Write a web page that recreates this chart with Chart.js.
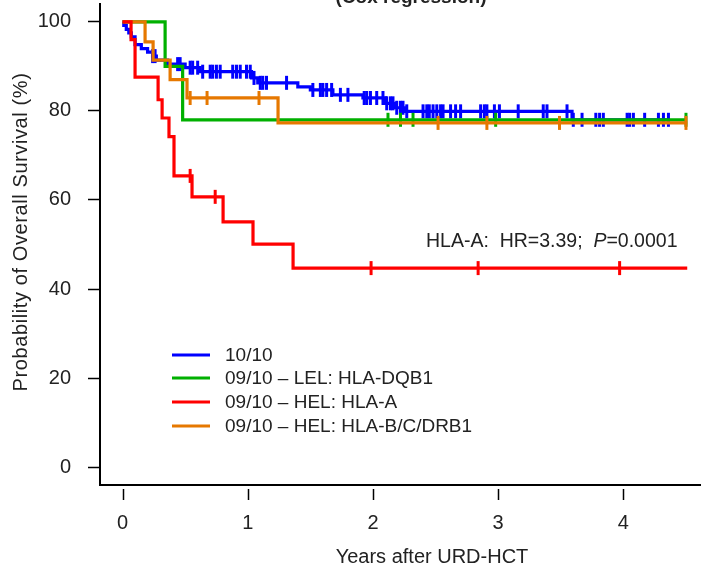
<!DOCTYPE html>
<html><head><meta charset="utf-8">
<script src="https://cdn.jsdelivr.net/npm/chart.js@4.4.1/dist/chart.umd.min.js"></script>
<style>html,body{margin:0;padding:0;background:#fff}canvas{display:block}</style>
</head><body>
<canvas id="c" width="701" height="571"></canvas>
<script>
// ---------- data ----------
const seriesLabels = ['10/10', '09/10 \u2013 LEL: HLA-DQB1', '09/10 \u2013 HEL: HLA-A', '09/10 \u2013 HEL: HLA-B/C/DRB1'];
const seriesColors = ['#0000FF', '#00B000', '#FF0000', '#E67800'];
const xTickValues = [0, 1, 2, 3, 4];
const yTickValues = [0, 20, 40, 60, 80, 100];
const xTitle = 'Years after URD-HCT';
const yTitle = 'Probability of Overall Survival (%)';
const topTitle = '(Cox regression)';

// 10/10 (blue): step times (years) and survival (%) after each step
const blueTimes = [0, 0.01, 0.03, 0.05, 0.07, 0.10, 0.15, 0.20, 0.24, 0.27, 0.36, 0.50, 0.62, 1.03, 1.08, 1.40, 1.50, 1.68, 1.92, 2.10, 2.18, 2.26, 3.59];
const blueSurv  = [100, 99.2, 98.3, 97.5, 96.6, 94.9, 94.0, 93.2, 92.3, 91.4, 90.5, 89.7, 88.8, 87.4, 86.3, 85.4, 84.7, 83.6, 82.9, 81.7, 80.7, 79.9, 78.0];
const blueEnd = 4.37;
const blueCensor = [0.24, 0.26, 0.44, 0.46, 0.54, 0.56, 0.60, 0.64, 0.70, 0.72, 0.75, 0.78, 0.88, 0.91, 0.94, 0.99, 1.02, 1.05, 1.10, 1.12, 1.15, 1.31, 1.52, 1.58, 1.60, 1.63, 1.67, 1.74, 1.80, 1.93, 1.95, 1.98, 2.03, 2.08, 2.11, 2.14, 2.16, 2.19, 2.22, 2.24, 2.27, 2.40, 2.43, 2.45, 2.48, 2.51, 2.54, 2.56, 2.62, 2.66, 2.70, 2.86, 2.89, 2.91, 2.97, 3.01, 3.16, 3.36, 3.39, 3.55, 3.60, 3.67, 3.78, 3.81, 3.84, 4.03, 4.05, 4.08, 4.17, 4.28, 4.32, 4.36];

// 09/10 LEL HLA-DQB1 (green)
const greenTimes = [0, 0.34, 0.48];
const greenSurv  = [100, 90.0, 78.0];
const greenEnd = 4.50;
const greenCensor = [2.12, 2.22, 2.32, 2.98, 4.50];

// 09/10 HEL HLA-A (red)
const redTimes = [0, 0.068, 0.10, 0.284, 0.316, 0.371, 0.411, 0.555, 0.803, 1.042, 1.362];
const redSurv  = [100, 96.0, 87.6, 82.5, 78.4, 74.2, 65.4, 60.7, 55.1, 50.1, 44.7];
const redEnd = 4.51;
const redCensor = [0.54, 0.74, 1.985, 2.84, 3.97];

// 09/10 HEL HLA-B/C/DRB1 (orange)
const orangeTimes = [0, 0.18, 0.244, 0.38, 0.515, 1.242];
const orangeSurv  = [100, 95.5, 91.4, 87.0, 82.9, 77.3];
const orangeEnd = 4.51;
const orangeCensor = [0.54, 0.675, 1.09, 2.52, 2.91, 3.49, 4.50];

const hrLabel = 'HLA-A:  HR=3.39;  ';
const pLabel = 'P';
const pValue = '=0.0001';

// ---------- helpers ----------
function stepPoints(times, surv, end) {
  const pts = times.map((t, i) => ({x: t, y: surv[i]}));
  pts.push({x: end, y: surv[surv.length - 1]});
  return pts;
}
function survAt(times, surv, t) {
  let v = surv[0];
  for (let i = 0; i < times.length; i++) if (times[i] <= t) v = surv[i];
  return v;
}
function censorPoints(times, surv, cens) {
  return cens.map(t => ({x: t, y: survAt(times, surv, t)}));
}

const groups = [
  {t: blueTimes, s: blueSurv, e: blueEnd, c: blueCensor, order: 4},
  {t: greenTimes, s: greenSurv, e: greenEnd, c: greenCensor, order: 3},
  {t: redTimes, s: redSurv, e: redEnd, c: redCensor, order: 1},
  {t: orangeTimes, s: orangeSurv, e: orangeEnd, c: orangeCensor, order: 2}
];

const datasets = [];
groups.forEach((g, i) => {
  datasets.push({
    label: seriesLabels[i], data: stepPoints(g.t, g.s, g.e),
    showLine: true, stepped: 'before', borderColor: seriesColors[i], backgroundColor: seriesColors[i],
    borderWidth: 3.2, pointRadius: 0, fill: false, order: g.order * 2
  });
  datasets.push({
    label: seriesLabels[i] + ' censored', data: censorPoints(g.t, g.s, g.c),
    showLine: false, pointStyle: 'line', rotation: 90, pointRadius: 7,
    borderColor: seriesColors[i], backgroundColor: seriesColors[i], pointBorderWidth: 3, borderWidth: 3,
    order: g.order * 2 - 1
  });
});

const FONT = '"Liberation Sans", Arial, Helvetica, sans-serif';
const TXT = '#222222';

const decor = {
  id: 'decor',
  afterDraw(chart) {
    const ctx = chart.ctx, xs = chart.scales.x, ca = chart.chartArea;
    ctx.save();
    // x tick marks (offset below the box, R style)
    ctx.strokeStyle = '#000'; ctx.lineWidth = 1.5;
    xTickValues.forEach(v => {
      const px = Math.round(xs.getPixelForValue(v)) + 0.5;
      ctx.beginPath(); ctx.moveTo(px, ca.bottom + 4); ctx.lineTo(px, ca.bottom + 15); ctx.stroke();
    });
    ctx.fillStyle = TXT;
    // axis titles
    ctx.font = '20px ' + FONT;
    ctx.textAlign = 'center'; ctx.textBaseline = 'middle';
    ctx.fillText(xTitle, 432, 557);
    ctx.save(); ctx.translate(21, 232); ctx.rotate(-Math.PI / 2);
    if ('letterSpacing' in ctx) ctx.letterSpacing = '0.6px';
    ctx.fillText(yTitle, 0, 0); ctx.restore();
    // cut-off title at top
    ctx.font = 'bold 19px ' + FONT;
    ctx.textBaseline = 'alphabetic';
    ctx.fillText(topTitle, 411, 3);
    // HR annotation
    ctx.textAlign = 'left'; ctx.textBaseline = 'middle';
    ctx.font = '19.5px ' + FONT;
    let x = 426; const y = 242;
    ctx.fillText(hrLabel, x, y); x += ctx.measureText(hrLabel).width;
    ctx.font = 'italic 19.5px ' + FONT;
    ctx.fillText(pLabel, x, y); x += ctx.measureText(pLabel).width;
    ctx.font = '19.5px ' + FONT;
    ctx.fillText(pValue, x, y);
    // legend
    ctx.font = '19px ' + FONT;
    const ly = [355, 378, 402, 426];
    seriesLabels.forEach((lab, i) => {
      ctx.strokeStyle = seriesColors[i]; ctx.lineWidth = 3;
      ctx.beginPath(); ctx.moveTo(172, ly[i]); ctx.lineTo(210, ly[i]); ctx.stroke();
      ctx.fillStyle = TXT;
      ctx.fillText(lab, 225, ly[i] + 1);
    });
    ctx.restore();
  }
};

function noPad(s) { s.paddingTop = 0; s.paddingBottom = 0; s.paddingLeft = 0; s.paddingRight = 0; }

new Chart(document.getElementById('c'), {
  type: 'scatter',
  data: {datasets},
  options: {
    responsive: false, animation: false, events: [],
    layout: {autoPadding: false, padding: {top: 4, right: 0, left: 0, bottom: 0}},
    plugins: {legend: {display: false}, tooltip: {enabled: false}},
    scales: {
      x: {
        type: 'linear', min: -0.18, max: 4.62,
        afterFit(s) { s.height = 86; noPad(s); },
        afterBuildTicks(s) { s.ticks = xTickValues.map(v => ({value: v})); },
        grid: {display: false, drawTicks: false},
        border: {display: true, color: '#000', width: 2},
        ticks: {color: TXT, font: {family: FONT, size: 20}, padding: 26, maxRotation: 0, autoSkip: false}
      },
      y: {
        type: 'linear', min: -4, max: 104,
        afterFit(s) { s.width = 100; noPad(s); },
        afterBuildTicks(s) { s.ticks = yTickValues.map(v => ({value: v})); },
        grid: {drawOnChartArea: false, drawTicks: true, tickLength: 12, tickColor: '#000', tickWidth: 1.5},
        border: {display: true, color: '#000', width: 2},
        ticks: {color: TXT, font: {family: FONT, size: 20}, padding: 17}
      }
    }
  },
  plugins: [decor]
});
</script>
</body></html>
